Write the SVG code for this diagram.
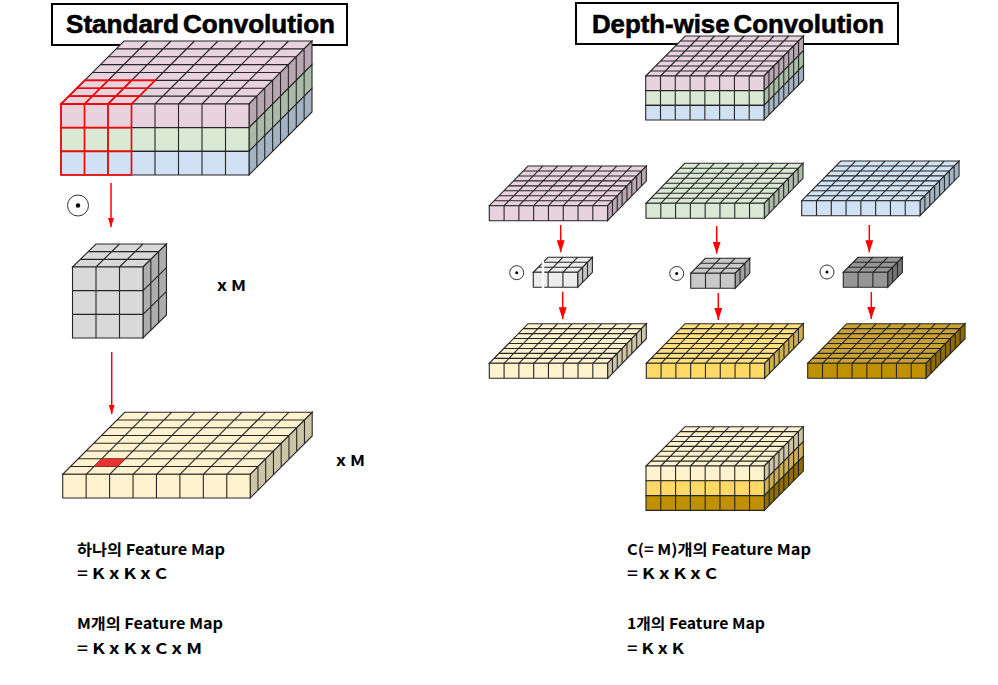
<svg xmlns="http://www.w3.org/2000/svg" width="998" height="685" viewBox="0 0 998 685">
<style>
.grid{vector-effect:non-scaling-stroke}
use{stroke:#262626;stroke-width:1.1}
.red use{stroke:#f00;stroke-width:1.6;fill:none}
.p{fill:#e8d2de}.ps{fill:#b8a6b0}
.g{fill:#dae9d4}.gs{fill:#abbaa9}
.b{fill:#cfe1f2}.bs{fill:#a3b3c2}
.y{fill:#fff2cf}.ys{fill:#cdc3a5}
.m{fill:#ffd966}.mt{fill:#ffdf7e}.ms{fill:#cdae52}
.d{fill:#bf9000}.dt{fill:#caa233}.ds{fill:#8f6c00}
.k{fill:#d9d9d9}.ks{fill:#adadad}
.k1{fill:#ededed}.k1s{fill:#c4c4c4}
.k2{fill:#c9c9c9}.k2s{fill:#a0a0a0}
.k3{fill:#969696}.k3s{fill:#757575}
.box{fill:#fff;stroke:#000;stroke-width:2}
.title{font-family:"Liberation Sans",Arial,sans-serif;font-weight:700;font-size:25px;word-spacing:-3px;fill:#000;stroke:#000;stroke-width:.6;text-anchor:middle}
.lab{font-family:"Noto Sans CJK KR","Noto Sans",sans-serif;font-weight:700;font-size:15px;fill:#000}
.ring{fill:#fff;stroke:#333;stroke-width:1}
.arr{stroke:#f00;stroke-width:1.5;fill:none}
</style>
<defs>
<path id="g88" class="grid" d="M0 0H8V8H0ZM1 0V8M2 0V8M3 0V8M4 0V8M5 0V8M6 0V8M7 0V8M0 1H8M0 2H8M0 3H8M0 4H8M0 5H8M0 6H8M0 7H8"/>
<path id="g81" class="grid" d="M0 0H8V1H0ZM1 0V1M2 0V1M3 0V1M4 0V1M5 0V1M6 0V1M7 0V1"/>
<path id="g33" class="grid" d="M0 0H3V3H0ZM1 0V3M2 0V3M0 1H3M0 2H3"/>
<path id="g31" class="grid" d="M0 0H3V1H0ZM1 0V1M2 0V1"/>
<marker id="big" markerUnits="userSpaceOnUse" markerWidth="13" markerHeight="9" refX="12" refY="4.500" orient="auto"><path d="M0 .5L12 4.500L0 8.500Z" fill="#f00"/></marker>
<marker id="small" markerUnits="userSpaceOnUse" markerWidth="10" markerHeight="7" refX="9" refY="3.500" orient="auto"><path d="M0 .5L9 3.500L0 6.500Z" fill="#f00"/></marker>
</defs>

<g id="title-standard"><rect class="box" x="52" y="4" width="295" height="41"/><text class="title" x="200.500" y="33" textLength="269" lengthAdjust="spacingAndGlyphs">Standard Convolution</text></g>
<g id="title-depthwise"><rect class="box" x="576" y="3" width="322" height="41"/><text class="title" x="738" y="33" textLength="292" lengthAdjust="spacingAndGlyphs">Depth-wise Convolution</text></g>

<g id="std-input">
<use href="#g88" class="p" transform="matrix(23.5 0 7.875 -7.875 61 104)"/>
<use href="#g81" class="ps" transform="matrix(7.875 -7.875 0 23.67 249 104)"/>
<use href="#g81" class="gs" transform="matrix(7.875 -7.875 0 23.67 249 127.67)"/>
<use href="#g81" class="bs" transform="matrix(7.875 -7.875 0 23.67 249 151.33)"/>
<use href="#g81" class="p" transform="matrix(23.5 0 0 23.67 61 104)"/>
<use href="#g81" class="g" transform="matrix(23.5 0 0 23.67 61 127.67)"/>
<use href="#g81" class="b" transform="matrix(23.5 0 0 23.67 61 151.33)"/>
<g class="red">
<use href="#g33" transform="matrix(23.5 0 7.875 -7.875 61 104)"/>
<use href="#g33" transform="matrix(23.5 0 0 23.67 61 104)"/>
</g>
</g>

<g id="std-kernel">
<use href="#g33" class="k" transform="matrix(23.5 0 7.83 -7.67 72.5 267)"/>
<use href="#g33" class="ks" transform="matrix(7.83 -7.67 0 23.67 143 267)"/>
<use href="#g33" class="k" transform="matrix(23.5 0 0 23.67 72.5 267)"/>
</g>

<g id="std-output">
<use href="#g88" class="y" transform="matrix(23.44 0 7.75 -7.75 62.7 474.3)"/>
<polygon points="93.9,466.5 117.4,466.5 125.2,458.8 101.7,458.8" fill="#ee3030" stroke="none"/>
<use href="#g81" class="ys" transform="matrix(7.75 -7.75 0 23.7 250.2 474.3)"/>
<use href="#g81" class="y" transform="matrix(23.44 0 0 23.7 62.7 474.3)"/>
</g>

<g id="dw-input">
<use href="#g88" class="p" transform="matrix(14.79 0 4.94 -5 645.7 76)"/>
<use href="#g81" class="ps" transform="matrix(4.94 -5 0 14.67 764 76)"/>
<use href="#g81" class="gs" transform="matrix(4.94 -5 0 14.67 764 90.67)"/>
<use href="#g81" class="bs" transform="matrix(4.94 -5 0 14.67 764 105.33)"/>
<use href="#g81" class="p" transform="matrix(14.79 0 0 14.67 645.7 76)"/>
<use href="#g81" class="g" transform="matrix(14.79 0 0 14.67 645.7 90.67)"/>
<use href="#g81" class="b" transform="matrix(14.79 0 0 14.67 645.7 105.33)"/>
</g>

<g id="dw-channel-1">
<use href="#g88" class="p" transform="matrix(14.79 0 4.84 -4.96 489.3 205.7)"/>
<use href="#g81" class="ps" transform="matrix(4.84 -4.96 0 15 607.6 205.7)"/>
<use href="#g81" class="p" transform="matrix(14.79 0 0 15 489.3 205.7)"/>
</g>
<g id="dw-channel-2">
<use href="#g88" class="g" transform="matrix(14.79 0 4.84 -5 646 203.3)"/>
<use href="#g81" class="gs" transform="matrix(4.84 -5 0 15 764.3 203.3)"/>
<use href="#g81" class="g" transform="matrix(14.79 0 0 15 646 203.3)"/>
</g>
<g id="dw-channel-3">
<use href="#g88" class="b" transform="matrix(14.79 0 4.88 -4.96 801.7 200.7)"/>
<use href="#g81" class="bs" transform="matrix(4.88 -4.96 0 15 920 200.7)"/>
<use href="#g81" class="b" transform="matrix(14.79 0 0 15 801.7 200.7)"/>
</g>

<g id="dw-kernel-1">
<use href="#g33" class="k1" transform="matrix(14.8 0 4.9 -5 533.3 272.3)"/>
<use href="#g31" class="k1s" transform="matrix(4.9 -5 0 15 577.7 272.3)"/>
<use href="#g31" class="k1" transform="matrix(14.8 0 0 15 533.3 272.3)"/>
<line x1="543" y1="261" x2="543" y2="289" stroke="#fff" stroke-width="2.4"/>
</g>
<g id="dw-kernel-2">
<use href="#g33" class="k2" transform="matrix(14.8 0 4.9 -5 690.7 273.3)"/>
<use href="#g31" class="k2s" transform="matrix(4.9 -5 0 15 735.1 273.3)"/>
<use href="#g31" class="k2" transform="matrix(14.8 0 0 15 690.7 273.3)"/>
</g>
<g id="dw-kernel-3">
<use href="#g33" class="k3" transform="matrix(14.8 0 4.9 -5 843.3 272.3)"/>
<use href="#g31" class="k3s" transform="matrix(4.9 -5 0 15 887.7 272.3)"/>
<use href="#g31" class="k3" transform="matrix(14.8 0 0 15 843.3 272.3)"/>
</g>

<g id="dw-output-1">
<use href="#g88" class="y" transform="matrix(14.79 0 4.84 -4.95 489.3 363.3)"/>
<use href="#g81" class="ys" transform="matrix(4.84 -4.95 0 15 607.6 363.3)"/>
<use href="#g81" class="y" transform="matrix(14.79 0 0 15 489.3 363.3)"/>
</g>
<g id="dw-output-2">
<use href="#g88" class="mt" transform="matrix(14.79 0 4.84 -4.95 646.3 363.3)"/>
<use href="#g81" class="ms" transform="matrix(4.84 -4.95 0 15 764.6 363.3)"/>
<use href="#g81" class="m" transform="matrix(14.79 0 0 15 646.3 363.3)"/>
</g>
<g id="dw-output-3">
<use href="#g88" class="dt" transform="matrix(14.79 0 4.88 -4.95 807.7 363.3)"/>
<use href="#g81" class="ds" transform="matrix(4.88 -4.95 0 15 926 363.3)"/>
<use href="#g81" class="d" transform="matrix(14.79 0 0 15 807.7 363.3)"/>
</g>

<g id="dw-stack">
<use href="#g88" class="y" transform="matrix(14.79 0 4.88 -4.91 646 466)"/>
<use href="#g81" class="ys" transform="matrix(4.88 -4.91 0 14.8 764.3 466)"/>
<use href="#g81" class="ms" transform="matrix(4.88 -4.91 0 14.8 764.3 480.8)"/>
<use href="#g81" class="ds" transform="matrix(4.88 -4.91 0 14.8 764.3 495.6)"/>
<use href="#g81" class="y" transform="matrix(14.79 0 0 14.8 646 466)"/>
<use href="#g81" class="m" transform="matrix(14.79 0 0 14.8 646 480.8)"/>
<use href="#g81" class="d" transform="matrix(14.79 0 0 14.8 646 495.6)"/>
</g>

<g id="conv-symbols">
<circle class="ring" cx="78" cy="205.500" r="10.500"/><circle cx="78" cy="205.500" r="2.200"/>
<circle class="ring" cx="516.700" cy="272.700" r="7"/><circle cx="516.700" cy="272.700" r="1.500"/>
<circle class="ring" cx="676.700" cy="273.500" r="7"/><circle cx="676.700" cy="273.500" r="1.500"/>
<circle class="ring" cx="827" cy="272" r="7"/><circle cx="827" cy="272" r="1.500"/>
</g>

<g id="connectors">
<line class="arr" x1="111" y1="183" x2="111" y2="227" marker-end="url(#small)"/>
<line class="arr" x1="111.700" y1="352" x2="111.700" y2="414" marker-end="url(#small)"/>
<line class="arr" x1="560.700" y1="225" x2="560.700" y2="252.300" marker-end="url(#big)"/>
<line class="arr" x1="716.700" y1="226" x2="716.700" y2="253.700" marker-end="url(#big)"/>
<line class="arr" x1="869.300" y1="225" x2="869.300" y2="252.300" marker-end="url(#big)"/>
<line class="arr" x1="562.700" y1="291.700" x2="562.700" y2="319.300" marker-end="url(#big)"/>
<line class="arr" x1="718.300" y1="293" x2="718.300" y2="320" marker-end="url(#big)"/>
<line class="arr" x1="871.300" y1="292" x2="871.300" y2="319" marker-end="url(#big)"/>
</g>

<g id="labels">
<text class="lab" x="217" y="291" textLength="29" lengthAdjust="spacingAndGlyphs">x M</text>
<text class="lab" x="336" y="466" textLength="29" lengthAdjust="spacingAndGlyphs">x M</text>
<text class="lab" x="77" y="555" textLength="148" lengthAdjust="spacingAndGlyphs">하나의 Feature Map</text>
<text class="lab" x="77" y="579" textLength="90" lengthAdjust="spacingAndGlyphs">= K x K x C</text>
<text class="lab" x="77" y="629" textLength="146" lengthAdjust="spacingAndGlyphs">M개의 Feature Map</text>
<text class="lab" x="77" y="654" textLength="125" lengthAdjust="spacingAndGlyphs">= K x K x C x M</text>
<text class="lab" x="627" y="555" textLength="184" lengthAdjust="spacingAndGlyphs">C(= M)개의 Feature Map</text>
<text class="lab" x="627" y="579" textLength="90" lengthAdjust="spacingAndGlyphs">= K x K x C</text>
<text class="lab" x="627" y="629" textLength="138" lengthAdjust="spacingAndGlyphs">1개의 Feature Map</text>
<text class="lab" x="627" y="654" textLength="57" lengthAdjust="spacingAndGlyphs">= K x K</text>
</g>
</svg>
